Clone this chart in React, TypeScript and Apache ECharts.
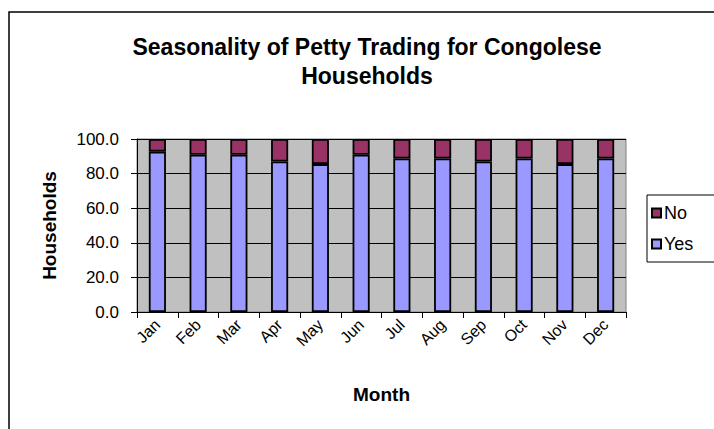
import React, { useEffect, useRef } from "react";
import * as echarts from "echarts";

const months = ["Jan", "Feb", "Mar", "Apr", "May", "Jun", "Jul", "Aug", "Sep", "Oct", "Nov", "Dec"];
const yesValues = [92.7, 90.9, 90.9, 87.0, 85.5, 90.9, 88.7, 88.7, 87.0, 88.7, 85.5, 88.7];
const noValues = [7.3, 9.1, 9.1, 13.0, 14.5, 9.1, 11.3, 11.3, 13.0, 11.3, 14.5, 11.3];
const yTicks = { min: 0, max: 100, interval: 20 };

export default function App() {
  const ref = useRef<HTMLDivElement>(null);
  useEffect(() => {
    if (!ref.current) return;
    const chart = echarts.init(ref.current, undefined, { renderer: "svg" });
    const font = "Arial, 'Liberation Sans', sans-serif";
    chart.setOption({
      animation: false,
      backgroundColor: "#ffffff",
      title: {
        text: "Seasonality of Petty Trading for Congolese\nHouseholds",
        left: 362,
        textAlign: "center",
        top: 27,
        textStyle: { fontFamily: font, fontSize: 23, fontWeight: "bold", color: "#000", lineHeight: 29 },
      },
      graphic: [
        {
          type: "rect",
          shape: { x: 9, y: 12, width: 800, height: 600 },
          style: { fill: "none", stroke: "#000", lineWidth: 1.5 },
          silent: true,
          z: -1,
        },
      ],
      legend: {
        orient: "vertical",
        left: 647,
        top: 195,
        data: ["No", "Yes"],
        itemWidth: 9,
        itemHeight: 9,
        itemGap: 13,
        padding: [9, 40, 9, 4],
        borderColor: "#000",
        borderWidth: 1,
        backgroundColor: "#fff",
        icon: "rect",
        textStyle: { fontFamily: font, fontSize: 18, color: "#000", padding: [0, 0, 0, -2] },
      },
      grid: {
        left: 137,
        top: 139,
        right: 88,
        bottom: 117,
        show: true,
        backgroundColor: "#c0c0c0",
        borderColor: "#808080",
        borderWidth: 1,
        containLabel: false,
      },
      xAxis: {
        type: "category",
        data: months,
        name: "Month",
        nameLocation: "middle",
        nameGap: 73,
        nameTextStyle: { fontFamily: font, fontSize: 19, fontWeight: "bold", color: "#000" },
        axisLine: { show: true, lineStyle: { color: "#000", width: 1 } },
        axisTick: { show: true, length: 6, lineStyle: { color: "#000" } },
        axisLabel: { rotate: 45, fontFamily: font, fontSize: 16, color: "#000", margin: 10 },
        splitLine: { show: false },
      },
      yAxis: {
        type: "value",
        min: yTicks.min,
        max: yTicks.max,
        interval: yTicks.interval,
        name: "Households",
        nameLocation: "middle",
        nameGap: 78,
        nameRotate: 90,
        nameTextStyle: { fontFamily: font, fontSize: 19, fontWeight: "bold", color: "#000" },
        axisLine: { show: true, lineStyle: { color: "#000", width: 1 } },
        axisTick: { show: true, length: 6, lineStyle: { color: "#000" } },
        axisLabel: {
          fontFamily: font,
          fontSize: 17,
          color: "#000",
          margin: 18,
          formatter: (v: number) => v.toFixed(1),
        },
        splitLine: { show: true, lineStyle: { color: "#000", width: 1 } },
      },
      series: [
        {
          name: "Yes",
          type: "bar",
          stack: "total",
          data: yesValues,
          barWidth: "42%",
          itemStyle: { color: "#9999ff", borderColor: "#000", borderWidth: 1.8 },
        },
        {
          name: "No",
          type: "bar",
          stack: "total",
          data: noValues,
          barWidth: "42%",
          itemStyle: { color: "#993366", borderColor: "#000", borderWidth: 1.8 },
        },
      ],
    });
    return () => chart.dispose();
  }, []);
  return (
    <div
      ref={ref}
      style={{ position: "absolute", left: 0, top: 0, width: 714, height: 429 }}
    />
  );
}
